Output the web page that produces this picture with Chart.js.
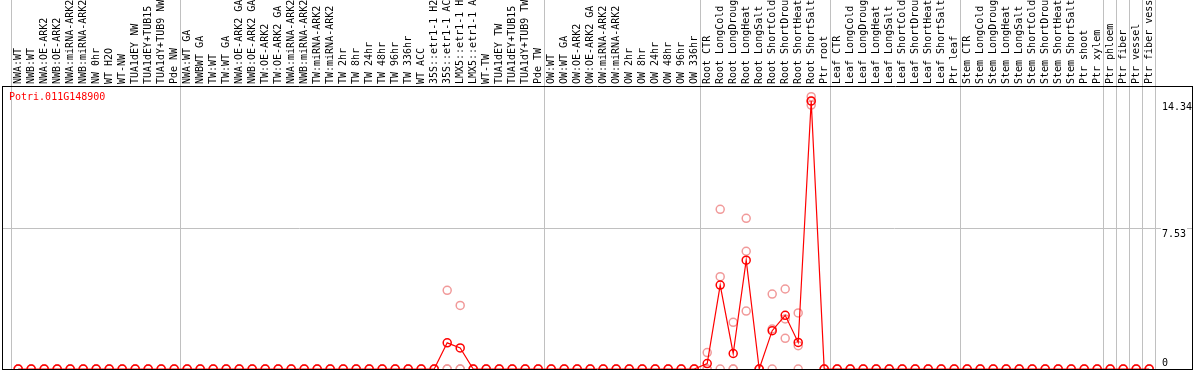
<!DOCTYPE html>
<html>
<head>
<meta charset="utf-8">
<script src="https://cdn.jsdelivr.net/npm/chart.js@4/dist/chart.umd.min.js"></script>
<style>
  html, body { margin: 0; padding: 0; background: #ffffff; }
  canvas { display: block; }
</style>
</head>
<body>
<canvas id="c" width="1194" height="370"></canvas>
<script>
const geneId = 'Potri.011G148900';

const sampleLabels = [
  'NWA:WT','NWB:WT','NWA:OE-ARK2','NWB:OE-ARK2','NWA:miRNA-ARK2','NWB:miRNA-ARK2','NW 0hr','WT H2O','WT-NW','TUA1dEY NW','TUA1dEY+TUB15 NW','TUA1dY+TUB9 NW','Pde NW',
  'NWA:WT GA','NWBWT GA','TW:WT','TW:WT GA','NWA:OE-ARK2 GA','NWB:OE-ARK2 GA','TW:OE-ARK2','TW:OE-ARK2 GA','NWA:miRNA-ARK2','NWB:miRNA-ARK2','TW:miRNA-ARK2','TW:miRNA-ARK2','TW 2hr','TW 8hr','TW 24hr','TW 48hr','TW 96hr','TW 336hr','WT ACC','35S::etr1-1 H2O','35S::etr1-1 ACC','LMX5::etr1-1 H2O','LMX5::etr1-1 ACC','WT-TW','TUA1dEY TW','TUA1dEY+TUB15 TW','TUA1dY+TUB9 TW','Pde TW',
  'OW:WT','OW:WT GA','OW:OE-ARK2','OW:OE-ARK2 GA','OW:miRNA-ARK2','OW:miRNA-ARK2','OW 2hr','OW 8hr','OW 24hr','OW 48hr','OW 96hr','OW 336hr',
  'Root CTR','Root LongCold','Root LongDrought','Root LongHeat','Root LongSalt','Root ShortCold','Root ShortDrought','Root ShortHeat','Root ShortSalt','Ptr root',
  'Leaf CTR','Leaf LongCold','Leaf LongDrought','Leaf LongHeat','Leaf LongSalt','Leaf ShortCold','Leaf ShortDrought','Leaf ShortHeat','Leaf ShortSalt','Ptr leaf',
  'Stem CTR','Stem LongCold','Stem LongDrought','Stem LongHeat','Stem LongSalt','Stem ShortCold','Stem ShortDrought','Stem ShortHeat','Stem ShortSalt','Ptr shoot','Ptr xylem',
  'Ptr phloem','Ptr fiber','Ptr vessel','Ptr fiber vessel'
];

// number of samples in each separated group
const groupSizes = [13, 28, 12, 10, 10, 11, 1, 1, 1, 1];

// mean expression per sample
const meanValues = [
  0,0,0,0,0,0,0,0,0,0,0,0,0,
  0,0,0,0,0,0,0,0,0,0,0,0,0,0,0,0,0,0,0,0,1.40,1.13,0,0,0,0,0,0,
  0,0,0,0,0,0,0,0,0,0,0,0,
  0.29,4.49,0.83,5.82,0,2.05,2.87,1.42,14.34,0,
  0,0,0,0,0,0,0,0,0,0,
  0,0,0,0,0,0,0,0,0,0,0,
  0,0,0,0
];

// replicate values per sample
const rep1 = [
  0,0,0,0,0,0,0,0,0,0,0,0,0,
  0,0,0,0,0,0,0,0,0,0,0,0,0,0,0,0,0,0,0,0,4.21,3.40,0,0,0,0,0,0,
  0,0,0,0,0,0,0,0,0,0,0,0,
  0.88,8.54,2.50,8.06,0,4.01,4.28,3.00,14.57,0,
  0,0,0,0,0,0,0,0,0,0,
  0,0,0,0,0,0,0,0,0,0,0,
  0,0,0,0
];
const rep2 = [
  0,0,0,0,0,0,0,0,0,0,0,0,0,
  0,0,0,0,0,0,0,0,0,0,0,0,0,0,0,0,0,0,0,0,0,0,0,0,0,0,0,0,
  0,0,0,0,0,0,0,0,0,0,0,0,
  0,4.94,0,6.30,0,2.14,2.68,1.25,14.12,0,
  0,0,0,0,0,0,0,0,0,0,
  0,0,0,0,0,0,0,0,0,0,0,
  0,0,0,0
];
const rep3 = [
  0,0,0,0,0,0,0,0,0,0,0,0,0,
  0,0,0,0,0,0,0,0,0,0,0,0,0,0,0,0,0,0,0,0,0,0,0,0,0,0,0,0,
  0,0,0,0,0,0,0,0,0,0,0,0,
  0,0,0,3.10,0,0,1.64,0,14.33,0,
  0,0,0,0,0,0,0,0,0,0,
  0,0,0,0,0,0,0,0,0,0,0,
  0,0,0,0
];

const yTickValues = [0, 7.53, 14.34];
const yGridValue = 7.53;
const yMax = 15.14;

// ---- build structures for Chart.js ----
const boundaries = [-0.5];
let acc = 0;
groupSizes.forEach(n => { acc += n; boundaries.push(acc - 0.5); });

const isBoundary = v => boundaries.some(b => Math.abs(b - v) < 1e-6);

const mainPoints = meanValues.map((v, i) => ({ x: i, y: v }));
const repPoints = [];
[rep1, rep2, rep3].forEach(r => r.forEach((v, i) => repPoints.push({ x: i, y: v })));

const xTicks = [];
sampleLabels.forEach((_, i) => xTicks.push({ value: i }));
boundaries.forEach(b => xTicks.push({ value: b }));
xTicks.sort((a, b) => a.value - b.value);

const FONT = '"DejaVu Sans Mono", "Liberation Mono", monospace';
Chart.defaults.font.family = FONT;
Chart.defaults.font.size = 10;
Chart.defaults.color = '#000000';

const noPad = s => { s.paddingLeft = 0; s.paddingRight = 0; s.paddingTop = 0; s.paddingBottom = 0; };
const isGridTick = ctx => !!(ctx.tick && Math.abs(ctx.tick.value - yGridValue) < 1e-6);

const geneLabelPlugin = {
  id: 'geneLabel',
  afterDraw(chart) {
    const { ctx, chartArea } = chart;
    ctx.save();
    ctx.font = '10px ' + FONT;
    ctx.fillStyle = '#ff0000';
    ctx.textAlign = 'left';
    ctx.textBaseline = 'middle';
    ctx.fillText(geneId, chartArea.left + 7, chartArea.top + 11);
    ctx.restore();
  }
};

new Chart(document.getElementById('c'), {
  type: 'line',
  data: {
    datasets: [
      {
        label: 'mean',
        data: mainPoints,
        order: 0,
        borderColor: '#ff0000',
        borderWidth: 1.2,
        pointRadius: 4,
        pointBorderWidth: 1.5,
        pointBorderColor: '#ff0000',
        pointBackgroundColor: 'rgba(0,0,0,0)',
        tension: 0
      },
      {
        label: 'replicates',
        data: repPoints,
        order: 1,
        showLine: false,
        pointRadius: 4,
        pointBorderWidth: 1.5,
        pointBorderColor: '#f19a9a',
        pointBackgroundColor: 'rgba(0,0,0,0)'
      }
    ]
  },
  options: {
    responsive: false,
    animation: false,
    devicePixelRatio: 1,
    layout: { autoPadding: false, padding: { left: 2, right: 2, top: 0, bottom: 1 } },
    plugins: {
      legend: { display: false },
      tooltip: { enabled: false },
      title: { display: false }
    },
    scales: {
      x: {
        type: 'linear',
        position: 'top',
        bounds: 'data',
        min: -1.246,
        max: 90.292,
        afterBuildTicks: s => { s.ticks = xTicks.map(t => ({ value: t.value })); },
        afterFit: s => { s.height = 86; noPad(s); },
        ticks: {
          autoSkip: false,
          minRotation: 90,
          maxRotation: 90,
          padding: -84,
          labelOffset: 12,
          color: '#000000',
          font: { family: FONT, size: 10 },
          callback: v => (Number.isInteger(v) && sampleLabels[v] !== undefined) ? sampleLabels[v] : ''
        },
        grid: {
          display: true,
          drawOnChartArea: true,
          drawTicks: true,
          tickLength: 86,
          lineWidth: 1,
          color: ctx => {
            const v = ctx.tick ? ctx.tick.value : null;
            return (v !== null && isBoundary(v)) ? '#c0c0c0' : 'rgba(0,0,0,0)';
          }
        },
        border: { display: true, color: '#000000', width: 1 }
      },
      y: {
        type: 'linear',
        position: 'right',
        bounds: 'data',
        min: 0,
        max: yMax,
        afterBuildTicks: s => { s.ticks = yTickValues.map(v => ({ value: v })); },
        afterFit: s => { s.width = 0; noPad(s); },
        ticks: {
          autoSkip: false,
          mirror: true,
          crossAlign: 'far',
          padding: 0,
          color: '#000000',
          font: { family: FONT, size: 10, lineHeight: 1.2 },
          showLabelBackdrop: ctx => isGridTick(ctx),
          backdropColor: '#ffffff',
          backdropPadding: { left: 1, right: 1, top: 0, bottom: 0 },
          callback: v => {
            const txt = String(v);
            return v === 0 ? [txt, ''] : ['', txt];
          }
        },
        grid: {
          drawTicks: false,
          lineWidth: 1,
          color: ctx => isGridTick(ctx) ? '#c0c0c0' : 'rgba(0,0,0,0)'
        },
        border: { display: true, color: '#000000', width: 1 }
      },
      yl: {
        type: 'linear',
        position: 'left',
        min: 0,
        max: 1,
        afterFit: s => { s.width = 0; noPad(s); },
        ticks: { display: false },
        grid: { display: false, drawTicks: false },
        border: { display: true, color: '#000000', width: 1 }
      },
      xb: {
        type: 'linear',
        position: 'bottom',
        min: 0,
        max: 1,
        afterFit: s => { s.height = 0; noPad(s); },
        ticks: { display: false },
        grid: { display: false, drawTicks: false },
        border: { display: true, color: '#000000', width: 1 }
      }
    }
  },
  plugins: [geneLabelPlugin]
});
</script>
</body>
</html>
